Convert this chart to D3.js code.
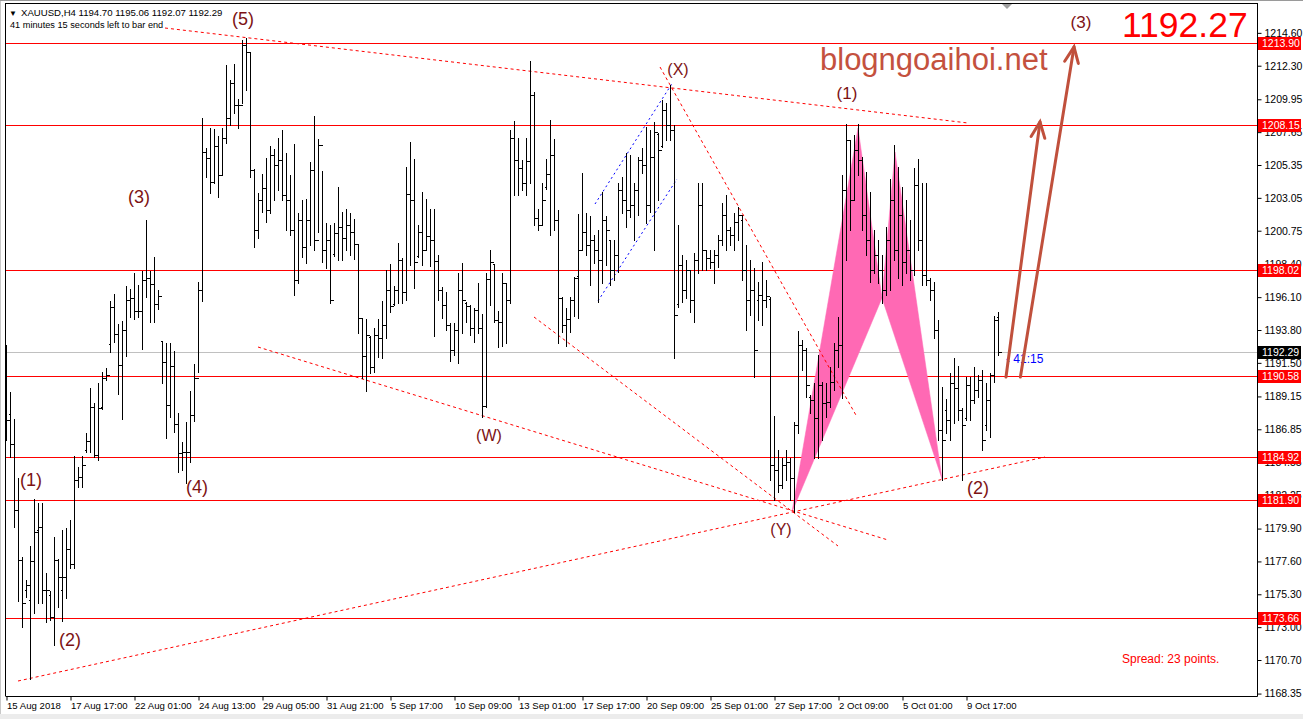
<!DOCTYPE html>
<html><head><meta charset="utf-8">
<script src="https://cdn.jsdelivr.net/npm/d3@7"></script>
<style>
body{margin:0;background:#fff;overflow:hidden}
text{font-family:"Liberation Sans",Arial,sans-serif}
</style>
</head><body>
<svg id="c" width="1303" height="719"></svg>
<script>
// ---------- DATA ----------
const highs=[1192.75,1189.46,1187.57,1183.44,1177.91,1176.30,1178.68,1181.97,1181.69,1181.69,1176.79,1175.53,1179.31,1177.77,1179.80,1179.94,1180.50,1184.98,1184.21,1184.98,
1186.59,1189.74,1188.69,1190.09,1190.86,1191.14,1195.83,1196.32,1194.22,1194.43,1196.88,1196.67,1197.79,1196.95,1197.93,1201.50,1197.93,1198.91,1196.60,1193.03,
1192.89,1192.89,1192.33,1187.99,1185.96,1187.36,1189.53,1191.42,1197.16,1208.64,1206.54,1207.94,1207.87,1207.38,1207.94,1212.35,1211.30,1212.42,1209.97,1214.10,
1214.24,1213.26,1205.07,1203.39,1204.72,1205.84,1206.68,1206.47,1207.24,1207.80,1206.19,1204.65,1206.82,1201.99,1202.90,1202.97,1205.56,1208.78,1207.17,1204.93,
1201.29,1201.15,1201.29,1203.81,1202.06,1202.27,1201.99,1201.57,1199.82,1194.64,1194.57,1193.38,1193.94,1194.57,1195.83,1198.00,1198.42,1196.88,1199.89,1198.84,
1205.21,1206.96,1205.77,1201.15,1203.46,1202.97,1202.27,1202.27,1199.05,1196.81,1196.46,1194.29,1194.29,1197.79,1198.49,1195.76,1195.55,1195.34,1197.09,1194.92,
1197.79,1199.40,1198.42,1195.13,1197.79,1197.09,1207.80,1208.43,1207.24,1205.70,1207.24,1212.63,1210.46,1202.27,1204.09,1205.77,1208.50,1207.17,1202.20,1196.11,
1195.34,1196.11,1197.51,1201.92,1204.79,1201.99,1201.78,1200.45,1200.80,1203.46,1201.78,1200.10,1200.10,1204.09,1204.51,1206.19,1206.05,1204.09,1205.91,1206.54,
1208.01,1207.80,1208.36,1207.59,1209.90,1209.69,1210.95,1208.15,1201.15,1199.05,1198.70,1198.00,1199.19,1204.09,1204.09,1199.40,1199.40,1199.40,1200.45,1202.69,
1203.25,1201.01,1201.99,1202.41,1201.85,1199.75,1198.70,1198.14,1197.16,1198.56,1197.30,1196.11,1187.78,1185.40,1184.84,1185.40,1184.84,1187.36,1193.73,1193.10,
1192.54,1189.25,1190.09,1192.05,1190.16,1190.09,1191.21,1192.89,1194.71,1204.65,1208.22,1207.10,1207.45,1208.22,1205.91,1204.86,1203.46,1200.80,1200.10,1199.05,
1201.01,1204.37,1206.75,1205.21,1203.81,1202.90,1201.50,1205.14,1205.77,1204.09,1204.09,1197.44,1197.16,1194.50,1189.81,1188.97,1190.79,1191.84,1191.28,1188.34,
1190.51,1190.51,1191.21,1190.65,1191.00,1190.09,1190.79,1194.78,1195.06];
const lows=[1186.10,1184.91,1180.01,1174.83,1173.01,1175.11,1169.37,1173.99,1174.69,1174.69,1173.36,1173.50,1171.75,1174.41,1173.43,1175.04,1177.14,1177.14,1182.81,1182.81,
1185.26,1185.26,1184.91,1184.70,1188.27,1190.30,1192.26,1192.96,1189.32,1187.57,1191.98,1194.71,1194.57,1194.71,1192.47,1196.11,1194.36,1194.36,1195.27,1190.09,
1186.24,1187.71,1186.66,1183.86,1184.00,1183.09,1184.56,1187.43,1190.86,1195.83,1204.51,1203.39,1204.09,1203.11,1204.65,1206.89,1208.15,1208.99,1207.94,1209.69,
1210.60,1204.51,1199.61,1200.24,1202.06,1201.36,1201.99,1202.90,1203.60,1202.90,1200.80,1200.45,1196.25,1197.09,1198.91,1198.49,1199.75,1199.40,1200.66,1198.56,
1198.14,1195.69,1198.98,1198.70,1198.70,1199.40,1199.05,1198.77,1193.59,1190.44,1189.53,1190.79,1190.86,1191.91,1191.84,1193.24,1195.06,1195.55,1195.69,1195.69,
1195.90,1198.35,1196.74,1198.91,1198.35,1199.40,1198.28,1193.38,1195.90,1194.64,1193.80,1191.63,1192.05,1191.49,1193.59,1194.36,1193.45,1192.96,1193.59,1187.71,
1188.41,1195.55,1194.36,1192.61,1192.68,1192.89,1195.69,1203.25,1203.25,1203.60,1203.25,1204.09,1201.15,1200.80,1201.15,1203.67,1200.45,1200.80,1192.89,1193.66,
1192.68,1193.66,1194.78,1194.64,1199.40,1199.05,1196.95,1198.49,1195.76,1197.09,1198.35,1196.95,1197.30,1197.86,1201.99,1201.01,1201.71,1200.10,1201.85,1204.79,
1201.29,1202.06,1199.40,1202.90,1206.61,1207.10,1207.10,1191.84,1195.41,1195.76,1196.04,1195.06,1194.36,1197.79,1198.00,1198.00,1198.14,1197.09,1198.21,1199.75,
1199.40,1199.75,1199.40,1200.10,1197.30,1193.80,1194.85,1190.51,1194.50,1194.15,1195.41,1183.30,1181.90,1182.46,1182.74,1183.30,1181.90,1181.06,1186.59,1191.00,
1189.11,1187.99,1184.84,1184.84,1186.10,1187.71,1188.41,1189.60,1191.21,1189.04,1198.70,1200.80,1202.90,1204.65,1200.80,1199.05,1197.16,1197.79,1197.09,1195.69,
1196.25,1196.60,1198.70,1197.44,1196.95,1197.79,1197.30,1197.65,1199.40,1196.95,1196.95,1195.90,1193.24,1186.10,1183.30,1186.59,1186.10,1187.29,1187.50,1183.30,
1187.50,1187.50,1188.69,1189.11,1185.40,1186.80,1186.31,1190.16,1192.07];
const opens=[1192.40,1187.92,1185.82,1181.20,1177.70,1175.60,1174.90,1177.63,1179.80,1180.01,1175.60,1175.25,1173.71,1177.70,1175.60,1176.51,1178.47,1177.42,1183.30,1183.51,
1185.40,1186.03,1188.41,1185.05,1188.41,1190.44,1192.82,1195.41,1193.52,1191.35,1193.80,1195.90,1196.04,1195.13,1195.13,1197.30,1197.44,1197.02,1195.62,1193.03,
1191.56,1188.55,1191.28,1187.22,1185.19,1185.26,1185.26,1187.85,1190.44,1196.60,1206.26,1205.84,1204.16,1206.68,1204.65,1207.24,1208.64,1211.09,1209.55,1209.55,
1213.75,1213.26,1205.00,1200.80,1202.90,1203.74,1202.20,1206.05,1205.35,1205.70,1203.25,1202.90,1200.80,1197.30,1201.50,1199.61,1201.50,1205.00,1200.10,1206.75,
1199.40,1200.10,1199.10,1200.59,1201.01,1200.24,1201.15,1200.66,1199.82,1194.64,1191.98,1193.30,1191.21,1193.45,1193.24,1194.15,1196.60,1195.60,1196.60,1198.70,
1196.46,1203.32,1202.90,1199.00,1200.66,1199.40,1200.38,1200.10,1198.63,1196.60,1195.55,1194.15,1192.40,1193.80,1196.60,1195.70,1195.48,1193.94,1195.20,1193.94,
1188.48,1197.37,1198.40,1194.50,1194.36,1197.09,1195.90,1207.24,1205.70,1205.14,1204.09,1205.63,1210.25,1201.64,1201.15,1203.80,1204.72,1206.05,1201.50,1196.04,
1194.15,1194.57,1195.90,1197.58,1199.40,1200.66,1199.75,1200.10,1199.40,1198.70,1201.50,1200.10,1198.00,1199.05,1203.60,1202.90,1202.20,1202.55,1203.60,1205.70,
1205.35,1202.55,1205.91,1207.50,1206.70,1209.20,1208.15,1207.80,1195.60,1198.35,1196.60,1198.00,1195.90,1198.70,1202.55,1199.40,1198.84,1198.56,1199.05,1200.10,
1201.85,1200.80,1200.45,1201.36,1201.50,1198.00,1195.90,1196.60,1195.90,1196.25,1195.90,1196.00,1184.35,1184.00,1182.95,1184.35,1184.56,1183.44,1187.15,1192.75,
1192.40,1189.11,1188.90,1187.64,1189.95,1188.69,1188.76,1190.16,1192.40,1192.75,1203.60,1207.10,1202.90,1206.40,1205.70,1201.85,1200.10,1198.00,1199.05,1198.00,
1196.60,1200.10,1202.90,1199.40,1201.85,1198.56,1199.40,1198.00,1203.95,1200.10,1197.65,1197.30,1196.60,1193.80,1186.80,1188.20,1187.50,1190.09,1189.74,1188.20,
1187.64,1189.95,1188.90,1189.60,1190.30,1187.15,1188.90,1190.65,1194.70];
const closes=[1187.50,1185.82,1181.20,1177.70,1174.69,1175.95,1177.63,1179.66,1180.01,1175.60,1175.60,1173.71,1177.70,1176.51,1176.51,1178.47,1177.42,1183.30,1183.51,1184.35,
1186.03,1188.41,1185.05,1188.34,1190.44,1190.65,1195.41,1193.52,1191.35,1193.80,1195.90,1196.04,1195.13,1195.13,1197.30,1197.44,1197.02,1195.62,1196.18,1191.56,
1188.55,1191.28,1187.22,1185.19,1185.26,1185.26,1187.85,1190.44,1196.60,1206.26,1205.84,1204.16,1206.68,1204.65,1207.24,1208.64,1211.09,1209.55,1209.55,1213.75,
1213.26,1205.00,1200.80,1202.90,1203.74,1202.20,1206.05,1205.35,1205.70,1203.25,1202.90,1200.80,1197.30,1201.50,1199.61,1201.50,1205.00,1200.10,1206.75,1199.40,
1200.10,1195.90,1200.59,1201.01,1200.24,1201.15,1200.66,1199.82,1194.64,1191.98,1193.45,1191.21,1193.45,1193.24,1194.15,1196.60,1195.48,1196.60,1198.70,1196.46,
1203.32,1202.90,1198.56,1200.66,1199.40,1200.38,1200.10,1198.63,1196.60,1195.55,1194.15,1192.40,1193.80,1196.60,1195.90,1195.48,1193.94,1195.20,1193.94,1188.48,
1197.37,1198.56,1194.50,1194.36,1197.09,1195.90,1207.24,1205.70,1205.14,1204.09,1205.63,1210.25,1201.64,1201.15,1202.90,1204.72,1206.05,1201.50,1196.04,1194.15,
1194.57,1195.90,1197.45,1199.40,1200.66,1199.75,1200.10,1199.40,1198.70,1201.50,1200.80,1198.00,1199.05,1203.60,1202.90,1202.20,1202.55,1203.60,1205.70,1205.35,
1202.55,1205.91,1207.66,1206.40,1209.20,1208.15,1207.80,1194.85,1198.35,1196.60,1198.00,1195.90,1198.70,1202.55,1199.40,1198.84,1198.56,1199.05,1200.10,1201.85,
1200.80,1200.45,1201.36,1201.85,1198.00,1195.90,1196.60,1192.40,1196.25,1195.90,1196.18,1184.35,1184.00,1182.95,1184.35,1184.56,1183.44,1187.15,1192.75,1192.40,
1189.95,1188.90,1187.64,1189.95,1188.69,1188.76,1190.16,1192.40,1192.75,1203.60,1207.10,1202.90,1206.40,1205.70,1201.85,1200.10,1198.00,1199.05,1198.00,1196.60,
1200.10,1202.90,1199.40,1201.85,1198.56,1199.40,1198.00,1203.95,1200.10,1197.65,1197.30,1196.60,1193.80,1186.80,1186.10,1187.50,1190.09,1189.74,1188.20,1187.15,
1189.95,1188.90,1189.60,1190.30,1186.10,1188.90,1190.65,1194.50,1192.29];

const dateTickBars=[0,16,32,48,64,80,96,112,128,144,160,176,192,208,224,240];
const dateLabels=["15 Aug 2018","17 Aug 17:00","22 Aug 01:00","24 Aug 13:00","29 Aug 05:00","31 Aug 21:00","5 Sep 17:00","10 Sep 09:00","13 Sep 01:00","17 Sep 17:00","20 Sep 09:00","25 Sep 01:00","27 Sep 17:00","2 Oct 09:00","5 Oct 01:00","9 Oct 17:00"];
const priceTicks=[1214.60,1212.30,1209.95,1207.65,1205.35,1203.05,1200.75,1198.40,1196.10,1193.80,1191.50,1189.15,1186.85,1184.55,1182.25,1179.90,1177.60,1175.30,1173.00,1170.70,1168.35];
const levels=[1213.90,1208.15,1198.02,1190.58,1184.92,1181.90,1173.66];
const currentPrice=1192.29;

// annotation geometry in (bar index, price)
const redTrendLines=[
  [[39.75,1214.94],[240.5,1208.29]],
  [[63,1192.61],[220.5,1179.10]],
  [[132,1194.71],[208,1178.68]],
  [[3,1169.23],[259.75,1184.91]],
  [[163.5,1212.21],[212.75,1187.71]]
];
const blueChannel=[
  [[147.25,1202.62],[166.75,1211.16]],
  [[148,1195.83],[167.75,1204.37]]
];
const patternXAB=[[196.5,1181.06],[213,1207.94],[219,1196.04]];
const patternBCD=[[219,1196.04],[222.25,1206.26],[234,1183.37]];
const arrows=[
  [[250,1190.51],[258.5,1208.36]],
  [[253.6,1190.51],[267,1213.61]]
];
const waveLabels=["(5)","(3)","(1)","(2)","(4)","(W)","(X)","(Y)","(1)","(2)","(3)"];
const waveLabelBar=[59.25,33.25,6.25,16,47.75,120.75,168,193.75,210.25,243,268.75];
const waveLabelPrice=[1215.57,1203.11,1183.30,1172.10,1182.81,1186.45,1212.07,1179.87,1210.39,1182.74,1215.36];
const waveLabelSize=[18,18,18,18,18,16,16,16,17,18,17];

// ---------- CHART ----------
const svg=d3.select("#c");
const L=5,R=1257,T=4,B=696;
const xs=d3.scaleLinear().domain([0,248]).range([6,998]);
const ys=d3.scaleLinear().domain([1168.18,1216.62]).range([B,T]);
const cx=i=>Math.round(xs(i))+0.5;
const cy=p=>Math.round(ys(p))+0.5;

svg.append("rect").attr("width",1303).attr("height",719).attr("fill","#fff");
svg.append("rect").attr("x",0).attr("y",714).attr("width",1303).attr("height",5).attr("fill","#ececec");
svg.append("line").attr("x1",0.5).attr("x2",0.5).attr("y1",0).attr("y2",714).attr("stroke","#c8c8c8");
svg.append("line").attr("x1",0).attr("x2",1303).attr("y1",0.5).attr("y2",0.5).attr("stroke","#9a9a9a");

svg.append("defs").append("clipPath").attr("id","plot").append("rect")
  .attr("x",L).attr("y",T).attr("width",R-L).attr("height",B-T);
const plot=svg.append("g").attr("clip-path","url(#plot)");

// horizontal levels
plot.selectAll(".lvl").data(levels).join("line").attr("class","lvl")
  .attr("x1",L).attr("x2",R).attr("y1",d=>cy(d)).attr("y2",d=>cy(d))
  .attr("stroke","#ff0000").attr("stroke-width",1.2);
plot.append("line").attr("x1",L).attr("x2",R).attr("y1",cy(currentPrice)).attr("y2",cy(currentPrice))
  .attr("stroke","#c0c0c0").attr("stroke-width",1);

// pattern triangles
const lineGen=d3.line().x(d=>xs(d[0])).y(d=>ys(d[1]));
[patternXAB,patternBCD].forEach(tri=>{
  plot.append("path").attr("d",lineGen(tri)+"Z").attr("fill","#ff69b4").attr("stroke","#ff69b4").attr("stroke-width",0.5);
});

// trend lines
plot.selectAll(".tl").data(redTrendLines).join("path").attr("class","tl")
  .attr("d",d=>lineGen(d)).attr("fill","none").attr("stroke","#ff0000").attr("stroke-width",1).attr("stroke-dasharray","3,3");
plot.selectAll(".bl").data(blueChannel).join("path").attr("class","bl")
  .attr("d",d=>lineGen(d)).attr("fill","none").attr("stroke","#0000ff").attr("stroke-width",1).attr("stroke-dasharray","2,3");

// OHLC bars
const bars=plot.append("g").attr("stroke","#000").attr("stroke-width",1).attr("shape-rendering","crispEdges");
highs.forEach((h,i)=>{
  const x=cx(i);
  bars.append("line").attr("x1",x).attr("x2",x).attr("y1",Math.round(ys(h))).attr("y2",Math.round(ys(lows[i]))+1);
  bars.append("line").attr("x1",x-2).attr("x2",x).attr("y1",cy(opens[i])).attr("y2",cy(opens[i]));
  bars.append("line").attr("x1",x).attr("x2",x+3).attr("y1",cy(closes[i])).attr("y2",cy(closes[i]));
});

// wave labels
plot.selectAll(".wl").data(waveLabels).join("text").attr("class","wl")
  .attr("x",(d,i)=>xs(waveLabelBar[i])).attr("y",(d,i)=>ys(waveLabelPrice[i]))
  .attr("text-anchor","middle").attr("dominant-baseline","central")
  .attr("font-size",(d,i)=>waveLabelSize[i]+"px").attr("fill","#7d1214").text(d=>d);

// watermark and texts
plot.append("text").attr("x",820).attr("y",70).attr("font-size","31px").attr("fill","#c4513e").text("blogngoaihoi.net");
plot.append("text").attr("x",1122).attr("y",37).attr("font-size","35.5px").attr("fill","#ff0000").text("1192.27");
plot.append("text").attr("x",1122).attr("y",663).attr("font-size","12px").attr("fill","#ff0000").text("Spread: 23 points.");
plot.append("text").attr("x",1006).attr("y",363).attr("font-size","12px").attr("fill","#0000ff").text("\u2039 41:15");

// arrows
arrows.forEach(a=>{
  const x0=xs(a[0][0]),y0=ys(a[0][1]),x1=xs(a[1][0]),y1=ys(a[1][1]);
  const ang=Math.atan2(y1-y0,x1-x0),len=17,sp=0.42;
  const g=plot.append("g").attr("stroke","#c0503c").attr("stroke-width",3).attr("fill","none").attr("stroke-linecap","round");
  g.append("line").attr("x1",x0).attr("y1",y0).attr("x2",x1).attr("y2",y1);
  g.append("path").attr("d",`M${x1-len*Math.cos(ang-sp)},${y1-len*Math.sin(ang-sp)}L${x1},${y1}L${x1-len*Math.cos(ang+sp)},${y1-len*Math.sin(ang+sp)}`);
});

// header
svg.append("text").attr("x",9).attr("y",16).attr("font-size","8px").attr("fill","#000").text("\u25BC");
svg.append("text").attr("x",21).attr("y",16).attr("font-size","9.6px").attr("fill","#000").text("XAUUSD,H4  1194.70 1195.06 1192.07 1192.29");
svg.append("text").attr("x",10).attr("y",28).attr("font-size","9.2px").attr("fill","#000").text("41 minutes 15 seconds left to bar end");
svg.append("path").attr("d","M1002,4L1012,4L1007,9Z").attr("fill","#a0a0a0");

// frame
svg.append("line").attr("x1",L+0.5).attr("x2",L+0.5).attr("y1",T).attr("y2",B).attr("stroke","#000");
svg.append("line").attr("x1",L).attr("x2",R+1).attr("y1",T-0.5).attr("y2",T-0.5).attr("stroke","#000");

// right axis
const yAxis=d3.axisRight(ys).tickValues(priceTicks).tickFormat(d3.format(".2f")).tickSize(4).tickSizeOuter(0).tickPadding(3);
const ya=svg.append("g").attr("transform",`translate(${R+0.5},0)`).call(yAxis);
ya.select(".domain").attr("d",`M0,${T}V${B+0.5}`).attr("stroke","#000");
ya.selectAll("text").attr("font-size","10.5px").attr("font-family","Liberation Sans, Arial, sans-serif").attr("fill","#000");
ya.selectAll("line").attr("stroke","#000");

// bottom axis
const xAxis=d3.axisBottom(xs).tickValues(dateTickBars).tickFormat((d,i)=>dateLabels[i]).tickSize(4).tickSizeOuter(0);
const xa=svg.append("g").attr("transform",`translate(0.5,${B+0.5})`).call(xAxis);
xa.select(".domain").attr("d",`M${L},0H${R}`).attr("stroke","#000");
xa.selectAll("text").attr("font-size","9.6px").attr("font-family","Liberation Sans, Arial, sans-serif").attr("fill","#000")
  .attr("text-anchor","start").attr("dx","0").attr("dy","0.55em").attr("x",0);
xa.selectAll("line").attr("stroke","#000");

// level price tags (drawn over the axis labels, as in the reference)
const tags=svg.append("g");
levels.forEach(l=>{
  const y=Math.round(ys(l));
  tags.append("rect").attr("x",R+1).attr("y",y-6).attr("width",43).attr("height",13).attr("fill","#ff0000");
  tags.append("text").attr("x",R+5).attr("y",y+4).attr("font-size","10.5px").attr("fill","#fff").text(l.toFixed(2));
});
{
  const y=Math.round(ys(currentPrice));
  tags.append("rect").attr("x",R+1).attr("y",y-6).attr("width",43).attr("height",13).attr("fill","#000");
  tags.append("text").attr("x",R+5).attr("y",y+4).attr("font-size","10.5px").attr("fill","#fff").text(currentPrice.toFixed(2));
}
</script>
</body></html>
